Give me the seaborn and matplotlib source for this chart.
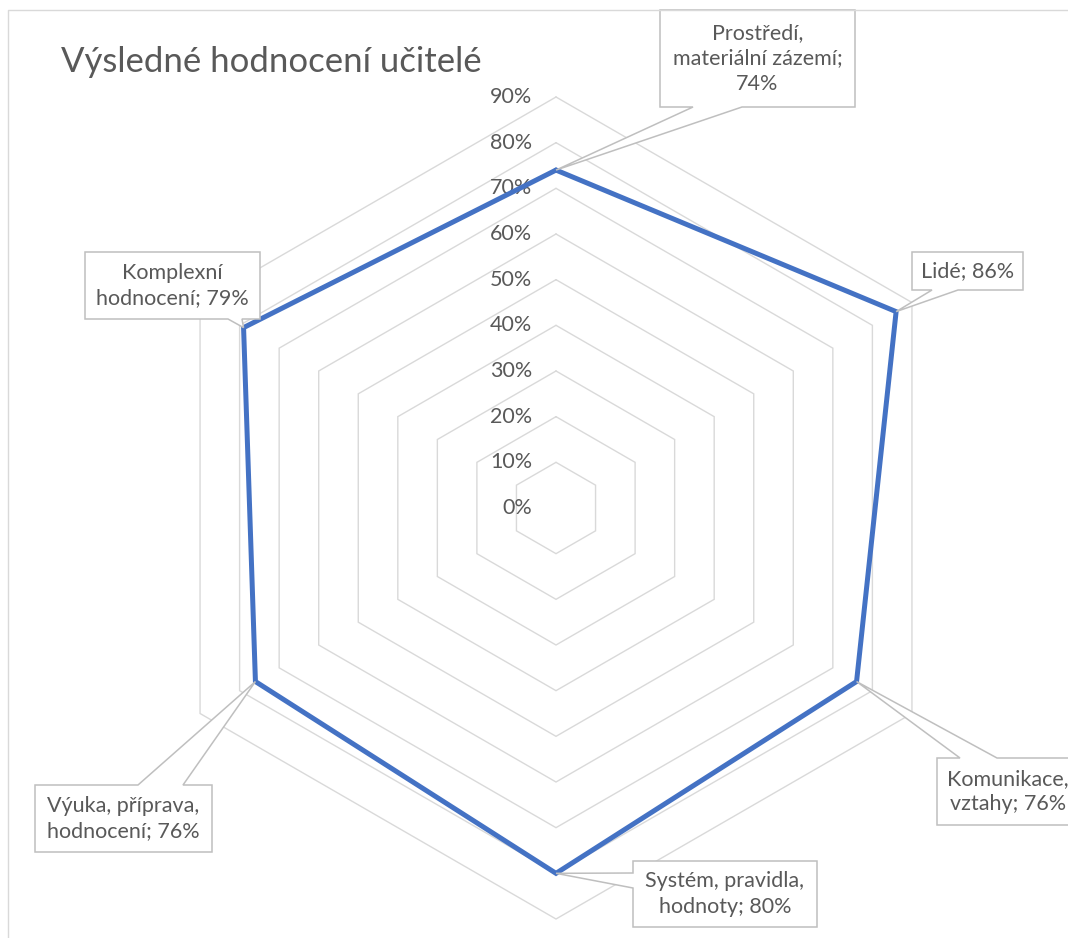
import numpy as np
import matplotlib
matplotlib.use("Agg")
import matplotlib.pyplot as plt
from matplotlib.patches import Polygon
from matplotlib.lines import Line2D
import seaborn as sns

# ---- data ----
categories = ["Prostředí,\nmateriální zázemí", "Lidé", "Komunikace,\nvztahy",
              "Systém, pravidla,\nhodnoty", "Výuka, příprava,\nhodnocení", "Komplexní\nhodnocení"]
values = [74, 86, 76, 80, 76, 79]
ring_levels = [10, 20, 30, 40, 50, 60, 70, 80, 90]
tick_values = [0, 10, 20, 30, 40, 50, 60, 70, 80, 90]
tick_labels = ["0%", "10%", "20%", "30%", "40%", "50%", "60%", "70%", "80%", "90%"]
title = "Výsledné hodnocení učitelé"

# ---- style ----
sns.set_theme(style="white")
plt.rcParams['font.family'] = ['Lato', 'DejaVu Sans']
TXT = "#595959"
GRID = "#D9D9D9"
BOXC = "#BFBFBF"
BLUE = "#4472C4"

W, H = 1068, 938
fig = plt.figure(figsize=(W / 100, H / 100), dpi=100)
fig.patch.set_facecolor("white")

# layout: pixel centre of radar and pixels per percent
CX, CY = 556, 508
K = 411 / 90.0
ax = fig.add_axes([0, 0, 1, 1])
ax.set_xlim(-CX / K, (W - CX) / K)
ax.set_ylim(-(H - CY) / K, CY / K)
ax.axis("off")

def px2d(px, py):
    return ((px - CX) / K, (CY - py) / K)

n = len(categories)
theta = np.deg2rad(90 - np.arange(n) * 360.0 / n)

# rings
for r in ring_levels:
    xs = np.append(r * np.cos(theta), r * np.cos(theta[0]))
    ys = np.append(r * np.sin(theta), r * np.sin(theta[0]))
    ax.plot(xs, ys, color=GRID, lw=1.0, zorder=1, solid_joinstyle="miter")

# tick labels
for v, lab in zip(tick_values, tick_labels):
    tx, _ = px2d(532, 0)
    ax.text(tx, v, lab, ha="right", va="center", fontsize=15.5, color=TXT, zorder=3)

# data polygon
vals = np.array(values, dtype=float)
dx = vals * np.cos(theta)
dy = vals * np.sin(theta)
sns.lineplot(x=np.append(dx, dx[0]), y=np.append(dy, dy[0]), sort=False, estimator=None,
             color=BLUE, linewidth=3.6, ax=ax, zorder=4, solid_joinstyle="miter")

# callout layout: box (x0, y0, x1, y1) in px, side of the pointer, base range on that side
callouts = [
    ((660, 10, 855, 107), "bottom", (693, 742)),
    ((912, 252, 1023, 290), "bottom", (932, 958)),
    ((937, 758, 1079, 825), "top", (960, 997)),
    ((633, 861, 817, 927), "left", (873, 888)),
    ((35, 785, 212, 852), "top", (138, 183)),
    ((85, 252, 260, 319), "bottom", (228, 242)),
]

for i, ((x0, y0, x1, y1), side, (a, b)) in enumerate(callouts):
    P = (dx[i], dy[i])
    pts = [px2d(x0, y0)]
    if side == "top":
        pts += [px2d(a, y0), P, px2d(b, y0)]
    pts += [px2d(x1, y0)]
    if side == "right":
        pts += [px2d(x1, a), P, px2d(x1, b)]
    pts += [px2d(x1, y1)]
    if side == "bottom":
        pts += [px2d(b, y1), P, px2d(a, y1)]
    pts += [px2d(x0, y1)]
    if side == "left":
        pts += [px2d(x0, b), P, px2d(x0, a)]
    ax.add_patch(Polygon(pts, closed=True, facecolor="white", edgecolor=BOXC,
                         lw=1.1, zorder=5, joinstyle="miter"))
    if i == 0:
        label = categories[i] + ";\n" + f"{values[i]}%"
    else:
        label = f"{categories[i]}; {values[i]}%"
    cxp, cyp = px2d((x0 + x1) / 2, (y0 + y1) / 2)
    ax.text(cxp, cyp, label, ha="center", va="center", multialignment="center",
            fontsize=15.5, color=TXT, linespacing=1.33, zorder=6)

# title
fig.text(61 / W, 1 - 72 / H, title, ha="left", va="baseline", fontsize=25, color=TXT)

# chart area frame (left and top edges visible)
fig.add_artist(Line2D([8 / W, 8 / W, 1.01], [-0.01, 1 - 10 / H, 1 - 10 / H],
                      transform=fig.transFigure, color=GRID, lw=1.0))

fig.savefig("out.png", dpi=100, facecolor="white")
